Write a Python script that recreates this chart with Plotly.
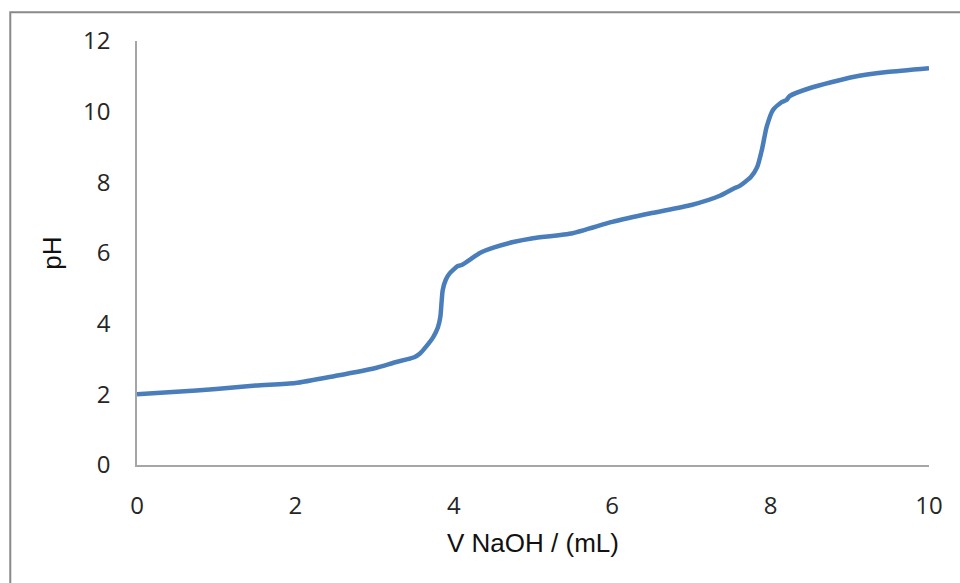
import plotly.graph_objects as go

volume = [0, 0.5, 1.0, 1.5, 2.0, 2.5, 3.0, 3.25, 3.5, 3.57, 3.65, 3.74, 3.8, 3.83, 3.86, 3.9, 3.95, 4.05, 4.1,
          4.33, 4.5, 4.75, 5.0, 5.5, 6.0, 6.5, 7.0, 7.36, 7.53, 7.61, 7.75, 7.83, 7.89, 7.95, 8.03, 8.14,
          8.2, 8.24, 8.5, 9.04, 9.47, 10.0]
ph = [2.0, 2.07, 2.15, 2.25, 2.32, 2.52, 2.74, 2.9, 3.05, 3.15, 3.35, 3.62, 3.9, 4.19, 4.95, 5.25, 5.43, 5.63, 5.66,
      6.0, 6.15, 6.31, 6.42, 6.56, 6.88, 7.13, 7.36, 7.62, 7.82, 7.9, 8.15, 8.43, 8.92, 9.57, 10.05, 10.27,
      10.33, 10.44, 10.67, 10.98, 11.12, 11.23]

x_ticks = [0, 2, 4, 6, 8, 10]
y_ticks = [0, 2, 4, 6, 8, 10, 12]

fig = go.Figure()
fig.add_trace(go.Scatter(x=volume, y=ph, mode="lines",
                         line=dict(color="#4A7EBB", width=4.5, shape="spline", smoothing=0.6),
                         hoverinfo="skip"))

tickfont = dict(family="Open Sans, Liberation Sans, sans-serif", size=24, color="#262626")
titlefont = dict(family="Liberation Sans, Arial, sans-serif", size=26, color="#111")
fig.update_layout(
    width=960, height=583,
    margin=dict(l=137, r=31, t=41, b=118),
    paper_bgcolor="white", plot_bgcolor="white",
    showlegend=False,
    xaxis=dict(range=[0, 10], tickvals=x_ticks, showgrid=False, zeroline=False,
               showline=True, linecolor="#a6a6a6", linewidth=1.5, ticks="",
               ticklabelstandoff=18, tickfont=tickfont,
               title=dict(text="V NaOH / (mL)", standoff=14, font=titlefont)),
    yaxis=dict(range=[0, 12], tickvals=y_ticks, showgrid=False, zeroline=False,
               showline=True, linecolor="#a6a6a6", linewidth=1.5, ticks="",
               ticklabelstandoff=20, tickfont=tickfont,
               title=dict(text="pH", standoff=14, font=titlefont)),
    shapes=[dict(type="rect", xref="paper", yref="paper", x0=-0.16, x1=1.2, y0=-0.6, y1=1.068,
                 line=dict(color="#898989", width=2), fillcolor="rgba(0,0,0,0)", layer="below")],
)

fig.write_html("out.html")
